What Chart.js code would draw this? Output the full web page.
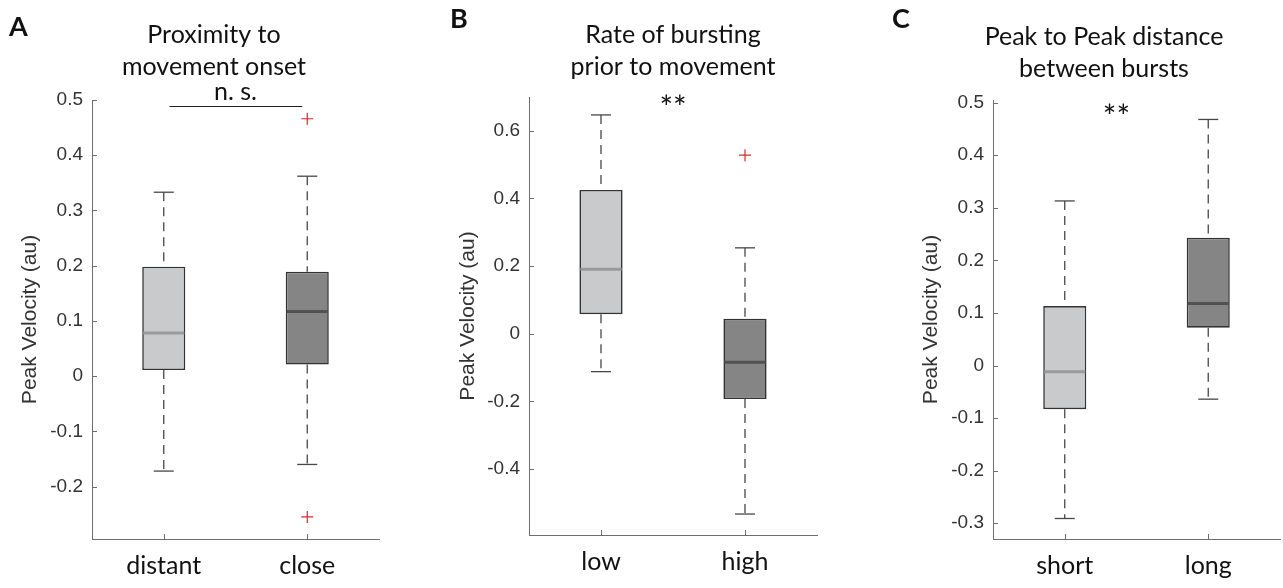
<!DOCTYPE html>
<html>
<head>
<meta charset="utf-8">
<script src="https://cdn.jsdelivr.net/npm/chart.js@4.4.1/dist/chart.umd.min.js"></script>
<style>
  html, body { margin: 0; padding: 0; background: #fff; }
  #wrap { position: relative; width: 1283px; height: 588px; overflow: hidden; }
  canvas { position: absolute; top: 0; }
</style>
</head>
<body>
<div id="wrap">
  <canvas id="chartA" width="430" height="588" style="left:0px"></canvas>
  <canvas id="chartB" width="430" height="588" style="left:430px"></canvas>
  <canvas id="chartC" width="423" height="588" style="left:860px"></canvas>
</div>
<script>
// ---- panel A: proximity to movement onset
var catsA = ['distant', 'close'];
var loA   = [-0.172, -0.160];
var q1A   = [0.011, 0.021];
var medA  = [0.078, 0.117];
var q3A   = [0.198, 0.189];
var hiA   = [0.333, 0.362];
var outA  = [{x: 'close', y: 0.466}, {x: 'close', y: -0.255}];
var ticksA = [-0.2, -0.1, 0, 0.1, 0.2, 0.3, 0.4, 0.5];
var rangeA = [-0.295, 0.5];

// ---- panel B: rate of bursting prior to movement
var catsB = ['low', 'high'];
var loB   = [-0.112, -0.533];
var q1B   = [0.058, -0.193];
var medB  = [0.191, -0.084];
var q3B   = [0.425, 0.044];
var hiB   = [0.647, 0.254];
var outB  = [{x: 'high', y: 0.528}];
var ticksB = [-0.4, -0.2, 0, 0.2, 0.4, 0.6];
var rangeB = [-0.595, 0.7];

// ---- panel C: peak to peak distance between bursts
var catsC = ['short', 'long'];
var loC   = [-0.291, -0.064];
var q1C   = [-0.083, 0.072];
var medC  = [-0.012, 0.118];
var q3C   = [0.113, 0.243];
var hiC   = [0.313, 0.468];
var outC  = [];
var ticksC = [-0.3, -0.2, -0.1, 0, 0.1, 0.2, 0.3, 0.4, 0.5];
var rangeC = [-0.33, 0.505];

var LIGHT = '#c9cacc', DARK = '#858585', EDGE = '#333333', AXIS = '#6e6e6e';
var MED = ['#9a9a9a', '#515151'];

// whiskers, caps and medians, placed through the chart scales
var boxExtras = {
  id: 'boxExtras',
  afterDatasetsDraw: function (chart, args, o) {
    var ctx = chart.ctx, xs = chart.scales.x, ys = chart.scales.y;
    var bars = chart.getDatasetMeta(0).data;
    function seg(x1, y1, x2, y2) { ctx.beginPath(); ctx.moveTo(x1, y1); ctx.lineTo(x2, y2); ctx.stroke(); }
    ctx.save();
    for (var i = 0; i < o.q1.length; i++) {
      var cx = xs.getPixelForValue(i);
      var half = bars[i].width / 2;
      var yHi = ys.getPixelForValue(o.hi[i]), yLo = ys.getPixelForValue(o.lo[i]);
      ctx.strokeStyle = '#474747';
      ctx.lineWidth = 1.3;
      ctx.setLineDash([9, 6]);
      seg(cx, yHi, cx, ys.getPixelForValue(o.q3[i]));
      seg(cx, ys.getPixelForValue(o.q1[i]), cx, yLo);
      ctx.setLineDash([]);
      seg(cx - 10, yHi, cx + 10, yHi);
      seg(cx - 10, yLo, cx + 10, yLo);
      ctx.strokeStyle = MED[i];
      ctx.lineWidth = 3;
      var ym = ys.getPixelForValue(o.med[i]);
      seg(cx - half + 1, ym, cx + half - 1, ym);
    }
    // small inward tick marks like the original axes
    ctx.strokeStyle = AXIS;
    ctx.lineWidth = 1;
    ys.ticks.forEach(function (t) {
      var py = Math.round(ys.getPixelForValue(t.value)) + 0.5;
      seg(ys.right, py, ys.right + 5, py);
    });
    for (var k = 0; k < o.q1.length; k++) {
      var px = Math.round(xs.getPixelForValue(k)) + 0.5;
      seg(px, xs.top, px, xs.top - 5);
    }
    ctx.restore();
  }
};

// panel letter, title, significance marks
var deco = {
  id: 'deco',
  afterDraw: function (chart, args, o) {
    var ctx = chart.ctx, xs = chart.scales.x, ys = chart.scales.y;
    ctx.save();
    ctx.fillStyle = '#111';
    ctx.textBaseline = 'alphabetic';
    ctx.textAlign = 'left';
    ctx.font = 'bold 27px Lato';
    ctx.fillText(o.letter, o.letterX, o.letterY);
    ctx.textAlign = 'center';
    ctx.font = '25px Lato';
    o.title.forEach(function (t, i) { ctx.fillText(t, o.titleX, o.titleY + i * 32); });
    var s = o.sig;
    ctx.font = s.size + 'px Lato';
    ctx.textBaseline = s.baseline;
    ctx.fillText(s.text, xs.getPixelForValue(s.at[0]), ys.getPixelForValue(s.at[1]));
    if (s.bar) {
      var by = Math.round(ys.getPixelForValue(s.bar[2])) + 0.5;
      ctx.strokeStyle = '#222';
      ctx.lineWidth = 1.2;
      ctx.beginPath();
      ctx.moveTo(xs.getPixelForValue(s.bar[0]), by);
      ctx.lineTo(xs.getPixelForValue(s.bar[1]), by);
      ctx.stroke();
    }
    ctx.restore();
  }
};

function makeChart(id, cats, lo, q1, med, q3, hi, outl, range, ticks, box, dec) {
  var canvas = document.getElementById(id);
  var W = canvas.width, H = canvas.height;
  return new Chart(canvas, {
    type: 'bar',
    data: {
      labels: cats,
      datasets: [{
        data: cats.map(function (c, i) { return [q1[i], q3[i]]; }),
        backgroundColor: [LIGHT, DARK],
        borderColor: EDGE,
        borderWidth: 1.6,
        borderSkipped: false,
        barPercentage: 0.3,
        categoryPercentage: 1
      }, {
        type: 'line',
        data: outl,
        showLine: false,
        pointStyle: 'cross',
        pointRadius: 6,
        pointBorderColor: '#e3242b',
        pointBackgroundColor: '#e3242b',
        pointBorderWidth: 1.2
      }]
    },
    options: {
      responsive: false,
      animation: false,
      devicePixelRatio: 1,
      layout: { padding: { left: 0, top: box.top, right: W - box.right, bottom: 0 } },
      plugins: {
        legend: { display: false },
        tooltip: { enabled: false },
        boxExtras: { lo: lo, q1: q1, med: med, q3: q3, hi: hi },
        deco: dec
      },
      scales: {
        x: {
          type: 'category',
          offset: true,
          grid: { drawOnChartArea: false, drawTicks: false },
          border: { display: true, color: AXIS, width: 1 },
          ticks: { font: { family: 'Lato', size: 25 }, color: '#111', padding: 12, maxRotation: 0 },
          afterFit: function (s) { s.height = H - box.bottom; }
        },
        y: {
          min: range[0],
          max: range[1],
          afterBuildTicks: function (s) { s.ticks = ticks.map(function (v) { return { value: v }; }); },
          grid: { drawOnChartArea: false, drawTicks: false },
          border: { display: true, color: AXIS, width: 1 },
          ticks: {
            font: { family: 'Liberation Sans', size: 19 },
            color: '#333',
            padding: 9,
            callback: function (v) { return String(Math.round(v * 10) / 10); }
          },
          title: {
            display: true,
            text: 'Peak Velocity (au)',
            font: { family: 'Liberation Sans', size: 21 },
            color: '#333',
            padding: { top: box.ylab, bottom: 0 }
          },
          afterFit: function (s) { s.width = box.left; }
        }
      }
    },
    plugins: [boxExtras, deco]
  });
}

function build() {
  makeChart('chartA', catsA, loA, q1A, medA, q3A, hiA, outA, rangeA, ticksA,
    { left: 92, right: 379, top: 100, bottom: 539, ylab: 18 },
    { letter: 'A', letterX: 9, letterY: 36, title: ['Proximity to', 'movement onset'], titleX: 214, titleY: 43,
      sig: { text: 'n. s.', size: 25, baseline: 'alphabetic', at: [0.5, 0.5], bar: [0.04, 0.965, 0.489] } });
  makeChart('chartB', catsB, loB, q1B, medB, q3B, hiB, outB, rangeB, ticksB,
    { left: 99, right: 387, top: 97, bottom: 535, ylab: 26 },
    { letter: 'B', letterX: 20, letterY: 28, title: ['Rate of bursting', 'prior to movement'], titleX: 243, titleY: 43,
      sig: { text: '**', size: 32, baseline: 'middle', at: [0.5, 0.665] } });
  makeChart('chartC', catsC, loC, q1C, medC, q3C, hiC, outC, rangeC, ticksC,
    { left: 133, right: 420, top: 100, bottom: 539, ylab: 59 },
    { letter: 'C', letterX: 32, letterY: 28, title: ['Peak to Peak distance', 'between bursts'], titleX: 244, titleY: 45,
      sig: { text: '**', size: 32, baseline: 'middle', at: [0.36, 0.472] } });
}

Promise.all([
  document.fonts.load('25px Lato'),
  document.fonts.load('bold 27px Lato'),
  document.fonts.load('19px "Liberation Sans"')
]).then(build, build);
</script>
</body>
</html>
